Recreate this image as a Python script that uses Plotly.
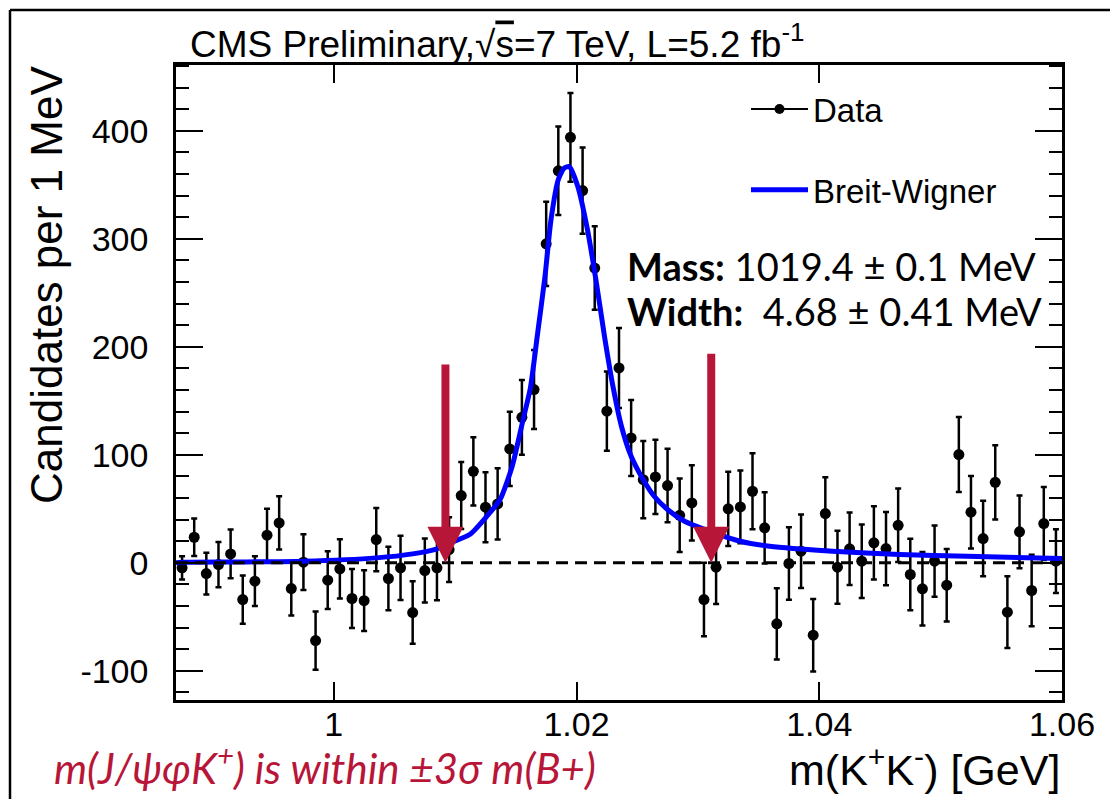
import plotly.graph_objects as go

# ---------------- data ----------------
mass_gev = [0.9875, 0.9885, 0.9895, 0.9905, 0.9915, 0.9925, 0.9935, 0.9945, 0.9955, 0.9965,
            0.9975, 0.9985, 0.9995, 1.0005, 1.0015, 1.0025, 1.0035, 1.0045, 1.0055, 1.0065,
            1.0075, 1.0085, 1.0095, 1.0105, 1.0115, 1.0125, 1.0135, 1.0145, 1.0155, 1.0165,
            1.0175, 1.0185, 1.0195, 1.0205, 1.0215, 1.0225, 1.0235, 1.0245, 1.0255, 1.0265,
            1.0275, 1.0285, 1.0295, 1.0305, 1.0315, 1.0325, 1.0335, 1.0345, 1.0355, 1.0365,
            1.0375, 1.0385, 1.0395, 1.0405, 1.0415, 1.0425, 1.0435, 1.0445, 1.0455, 1.0465,
            1.0475, 1.0485, 1.0495, 1.0505, 1.0515, 1.0525, 1.0535, 1.0545, 1.0555, 1.0565,
            1.0575, 1.0585, 1.0595]

candidates = [-4.6, 23.7, -9.9, -1.6, 8.3, -34, -17, 25.6, 37, -23.8,
              0.6, -72, -16, -5.6, -33, -35, 21.6, -14.5, -4.6, -46,
              -7.1, -4.6, 12.3, 62.3, 84.8, 51.5, 54.6, 105.5, 134.8, 160.5,
              295.4, 363, 394, 344.7, 273, 140.4, 180.5, 115.7, 77, 79.6,
              71.6, 44, 55.5, -34, -4, 50, 51.8, 66.3, 32.4, -56.5,
              -0.6, 10.8, -67, 45.6, -4, 13, 1.5, 18.5, 13.2, 34.8,
              -10.8, -24, 1.5, -20.7, 100.3, 46.9, 22.5, 74.6, -45.7, 28.7,
              -25.6, 36.4, 1.5]

errors = [10.8, 17.4, 19.3, 21, 22.5, 22.4, 23, 24.4, 24.7, 25,
          25.8, 27, 26.7, 27.5, 27.3, 28.2, 29.3, 29.3, 29.8, 29,
          29.6, 30, 30, 31, 31.6, 32.4, 32.9, 34.4, 34.6, 36.5,
          39, 41, 41, 40, 38.6, 36.7, 37, 35.2, 35.8, 34.4,
          34, 34, 34.9, 34, 34, 34.3, 33.6, 35.2, 33, 33,
          33.6, 34, 33.5, 33.6, 33.8, 33.6, 34, 34, 34, 34,
          33, 34, 33, 33.5, 34.7, 33.6, 35, 34.4, 33.2, 33.6,
          33.2, 33.8, 29.5]

# Breit-Wigner fit curve
bw_mass = [0.9870, 0.9875, 0.9922, 0.9975, 1.0035, 1.0065, 1.0085, 1.0095, 1.0112, 1.0126,
           1.0137, 1.0147, 1.0156, 1.0162, 1.0168, 1.0174, 1.0179, 1.0185, 1.0190, 1.0194,
           1.0201, 1.0209, 1.0216, 1.0223, 1.0230, 1.0237, 1.0245, 1.0255, 1.0264, 1.0275,
           1.0289, 1.0306, 1.0335, 1.0359, 1.0411, 1.0466, 1.0522, 1.0600]
bw_value = [0, 0.5, 0.8, 1.5, 4.6, 8.3, 13, 18, 26.2, 43,
            58.6, 89.5, 132.7, 162, 213, 265, 318, 355, 365.7, 367,
            348.7, 308.6, 262, 210, 163.5, 126.5, 98.7, 77, 61.7, 49.4,
            38.5, 30.8, 20, 15.4, 10.8, 7.7, 6.1, 4]

# signal-window arrows: (mass, top value)
arrow_mass = [1.0092, 1.0311]
arrow_top = [185, 195]

x_ticks = [1.00, 1.02, 1.04, 1.06]
x_tick_labels = ["1", "1.02", "1.04", "1.06"]
y_ticks = [-100, 0, 100, 200, 300, 400]
y_tick_labels = ["-100", "0", "100", "200", "300", "400"]

# ---------------- layout helpers ----------------
W, H = 1110, 799
L, R, T, B = 176, 1062, 65, 700


def px(x):
    return (x - L) / (R - L)


def py(y):
    return (B - y) / (B - T)


SANS = "Liberation Sans, Arial, Helvetica, sans-serif"
HUM = "Lato, Open Sans, sans-serif"
RED = "#B81638"

fig = go.Figure()

fig.add_trace(go.Scatter(
    x=mass_gev, y=candidates, mode="markers",
    marker=dict(color="black", size=11),
    error_y=dict(type="data", array=errors, color="black", thickness=2.5, width=3),
    showlegend=False, name="Data points",
))

fig.add_trace(go.Scatter(
    x=[None], y=[None], mode="lines+markers", name="Data",
    line=dict(color="black", width=2), marker=dict(color="black", size=10),
    legendgroup="a", legendrank=1,
))

fig.add_trace(go.Scatter(
    x=bw_mass, y=bw_value, mode="lines", name="Breit-Wigner",
    line=dict(color="#0000ff", width=5, shape="spline", smoothing=0.6),
    legendgroup="b", legendrank=2,
))

annotations = [
    dict(text="CMS Preliminary,√<span style='text-decoration:overline'>s</span>=7 TeV, L=5.2 fb<sup>-1</sup>",
         xref="paper", yref="paper", x=px(188), y=py(42), xanchor="left", yanchor="middle",
         showarrow=False, font=dict(family=SANS, size=37, color="black")),
    dict(text="Candidates per 1 MeV", textangle=-90,
         xref="paper", yref="paper", x=px(46), y=py(285), xanchor="center", yanchor="middle",
         showarrow=False, font=dict(family=SANS, size=44, color="black")),
    dict(text="m(K<sup>+</sup>K<sup>-</sup>) [GeV]",
         xref="paper", yref="paper", x=1.0, y=py(767), xanchor="right", yanchor="middle",
         showarrow=False, font=dict(family=SANS, size=43, color="black")),
    dict(text="<i>m(J/ψφK<sup>+</sup>) is within ±3σ m(B+)</i>",
         xref="paper", yref="paper", x=px(52), y=py(765), xanchor="left", yanchor="middle",
         showarrow=False, font=dict(family=HUM, size=42, color=RED)),
    dict(text="<b>Mass:</b> 1019.4 ± 0.1 MeV",
         xref="paper", yref="paper", x=px(625), y=py(266), xanchor="left", yanchor="middle",
         showarrow=False, font=dict(family=HUM, size=38, color="black")),
    dict(text="<b>Width:</b>  4.68 ± 0.41 MeV",
         xref="paper", yref="paper", x=px(625), y=py(311), xanchor="left", yanchor="middle",
         showarrow=False, font=dict(family=HUM, size=38, color="black")),
]

for m, top in zip(arrow_mass, arrow_top):
    annotations.append(dict(
        x=m, y=0, ax=m, ay=top, xref="x", yref="y", axref="x", ayref="y",
        text="", showarrow=True, arrowhead=2, arrowwidth=8, arrowsize=0.9,
        arrowcolor=RED, standoff=0,
    ))

shapes = [
    # dashed zero line
    dict(type="line", xref="paper", yref="y", x0=0, x1=1, y0=0, y1=0,
         line=dict(color="black", width=3, dash="12px,7px"), layer="above"),
    # outer picture frame (left and top edges)
    dict(type="line", xref="paper", yref="paper", x0=px(10), x1=px(10), y0=py(10), y1=py(820),
         line=dict(color="black", width=2.5)),
    dict(type="line", xref="paper", yref="paper", x0=px(10), x1=px(1130), y0=py(10), y1=py(10),
         line=dict(color="black", width=2.5)),
]

fig.update_layout(
    width=W, height=H,
    margin=dict(l=L, r=W - R, t=T, b=H - B, pad=0),
    paper_bgcolor="white", plot_bgcolor="white",
    font=dict(family=SANS, color="black"),
    annotations=annotations, shapes=shapes,
    legend=dict(
        x=px(746), y=py(81), xanchor="left", yanchor="top",
        bgcolor="rgba(0,0,0,0)", font=dict(family=SANS, size=33, color="black"),
        itemwidth=57, tracegroupgap=35, traceorder="grouped",
    ),
    showlegend=True,
)

fig.update_xaxes(
    range=[0.987, 1.06], tickvals=x_ticks, ticktext=x_tick_labels,
    ticks="inside", ticklen=18, tickwidth=2, tickcolor="black",
    showline=True, linecolor="black", linewidth=2.5, mirror="ticks",
    showgrid=False, zeroline=False, ticklabelstandoff=-8,
    tickfont=dict(family=SANS, size=34, color="black"),
)
fig.update_yaxes(
    range=[-127, 461], tickvals=y_ticks, ticktext=y_tick_labels,
    ticks="inside", ticklen=27, tickwidth=2, tickcolor="black",
    minor=dict(ticks="inside", ticklen=13, tickwidth=2, tickcolor="black", dtick=20, tick0=0, showgrid=False),
    showline=True, linecolor="black", linewidth=2.5, mirror="ticks",
    showgrid=False, zeroline=False, ticklabelstandoff=18,
    tickfont=dict(family=SANS, size=34, color="black"),
)

fig.write_html("out.html")
